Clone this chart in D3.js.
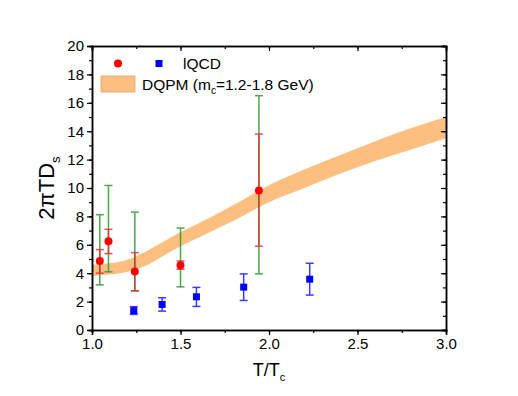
<!DOCTYPE html>
<html>
<head>
<meta charset="utf-8">
<script src="https://cdn.jsdelivr.net/npm/d3@7"></script>
<style>
  body { margin: 0; background: #fff; }
  text { font-family: "Liberation Sans", Arial, sans-serif; fill: #000; }
</style>
</head>
<body>
<div id="chart"></div>
<script>
// lQCD points (red circles): value, red error, green error
const redT = [1.044, 1.093, 1.242, 1.50, 1.943];
const redVal = [4.86, 6.25, 4.12, 4.56, 9.82];
const redLo = [4.0, 5.38, 2.76, 4.28, 5.9];
const redHi = [5.66, 7.09, 5.45, 4.86, 13.8];
const greenLo = [3.18, 4.1, 2.76, 3.04, 3.95];
const greenHi = [8.12, 10.18, 8.3, 7.18, 16.5];

// lQCD points (blue squares)
const blueT = [1.236, 1.396, 1.59, 1.857, 2.23];
const blueVal = [1.36, 1.8, 2.34, 3.02, 3.58];
const blueLo = [1.1, 1.33, 1.66, 2.08, 2.46];
const blueHi = [1.64, 2.27, 3.0, 3.95, 4.7];

// DQPM band
const bandT = [1.0, 1.1, 1.2, 1.3, 1.4, 1.5, 1.6, 1.8, 2.0, 2.2, 2.4, 2.6, 2.8, 3.0];
const bandUp = [4.6, 4.7, 4.95, 5.5, 6.2, 6.9, 7.5, 8.8, 10.2, 11.3, 12.3, 13.3, 14.2, 15.0];
const bandLow = [3.8, 3.9, 4.1, 4.5, 5.2, 5.9, 6.5, 7.7, 9.0, 10.0, 11.0, 11.9, 12.7, 13.5];

const xTicks = [1.0, 1.5, 2.0, 2.5, 3.0];
const yTicks = [0, 2, 4, 6, 8, 10, 12, 14, 16, 18, 20];

const width = 518, height = 396;
const margin = { top: 46, right: 72, bottom: 66, left: 92 };

const svg = d3.select("#chart").append("svg")
  .attr("width", width).attr("height", height);

const x = d3.scaleLinear().domain([1, 3]).range([margin.left, width - margin.right]);
const y = d3.scaleLinear().domain([0, 20]).range([height - margin.bottom, margin.top]);

const orange = "#fdbf80";

// band
const band = bandT.map((t, i) => ({ t, lo: bandLow[i], hi: bandUp[i] }));
svg.append("path")
  .datum(band)
  .attr("fill", orange)
  .attr("d", d3.area().x(d => x(d.t)).y0(d => y(d.lo)).y1(d => y(d.hi)).curve(d3.curveMonotoneX));

// error bars helper
function errBars(ts, lo, hi, color, cap, opacity) {
  const g = svg.append("g").attr("stroke", color).attr("stroke-width", 1.5).attr("opacity", opacity);
  ts.forEach((t, i) => {
    const cx = x(t);
    g.append("line").attr("x1", cx).attr("x2", cx).attr("y1", y(lo[i])).attr("y2", y(hi[i]));
    [lo[i], hi[i]].forEach(v => {
      g.append("line").attr("x1", cx - cap).attr("x2", cx + cap).attr("y1", y(v)).attr("y2", y(v));
    });
  });
}

errBars(redT, greenLo, greenHi, "#2e9a2e", 4, 0.85);
errBars(redT, redLo, redHi, "#e8262a", 4, 0.8);
errBars(blueT, blueLo, blueHi, "#1a1aff", 4, 0.85);

svg.append("g").selectAll("circle")
  .data(redT).enter().append("circle")
  .attr("cx", d => x(d)).attr("cy", (d, i) => y(redVal[i]))
  .attr("r", 4).attr("fill", "#ff0000");

svg.append("g").selectAll("rect")
  .data(blueT).enter().append("rect")
  .attr("x", d => x(d) - 3.5).attr("y", (d, i) => y(blueVal[i]) - 3.5)
  .attr("width", 7).attr("height", 7).attr("fill", "#0000ff");

// axes
const fmt = d3.format(".1f");
const xMinor = d3.range(1, 3.001, 0.25);
const yMinor = d3.range(0, 20.001, 1);

const bottom = svg.append("g").attr("transform", `translate(0,${y(0)})`)
  .call(d3.axisBottom(x).tickValues(xTicks).tickFormat(fmt).tickSize(5).tickPadding(3));
svg.append("g").attr("transform", `translate(0,${y(0)})`)
  .call(d3.axisBottom(x).tickValues(xMinor).tickFormat("").tickSize(3));
const left = svg.append("g").attr("transform", `translate(${x(1)},0)`)
  .call(d3.axisLeft(y).tickValues(yTicks).tickSize(5).tickPadding(3));
svg.append("g").attr("transform", `translate(${x(1)},0)`)
  .call(d3.axisLeft(y).tickValues(yMinor).tickFormat("").tickSize(3));
svg.append("g").attr("transform", `translate(0,${y(20)})`)
  .call(d3.axisBottom(x).tickValues(xTicks).tickFormat("").tickSize(5));
svg.append("g").attr("transform", `translate(0,${y(20)})`)
  .call(d3.axisBottom(x).tickValues(xMinor).tickFormat("").tickSize(3));
svg.append("g").attr("transform", `translate(${x(3)},0)`)
  .call(d3.axisLeft(y).tickValues(yTicks).tickFormat("").tickSize(5));
svg.append("g").attr("transform", `translate(${x(3)},0)`)
  .call(d3.axisLeft(y).tickValues(yMinor).tickFormat("").tickSize(3));

svg.selectAll(".domain").attr("stroke", "#000").attr("stroke-width", 1.5);
svg.selectAll(".tick line").attr("stroke", "#000").attr("stroke-width", 1.2);
svg.selectAll(".tick text").style("font-family", "Liberation Sans, Arial, sans-serif").style("font-size", "15px").attr("fill", "#000");

// axis titles
const xt = svg.append("text").attr("x", x(2)).attr("y", 376).attr("text-anchor", "middle")
  .style("font-size", "18px");
xt.append("tspan").text("T/T");
xt.append("tspan").text("c").attr("dy", 5).style("font-size", "11px");

const yt = svg.append("text").attr("transform", `translate(54,${y(10)}) rotate(-90)`)
  .attr("text-anchor", "middle").style("font-size", "22px");
yt.append("tspan").text("2πTD");
yt.append("tspan").text("s").attr("dy", 6).style("font-size", "13px");

// legend
svg.append("circle").attr("cx", 118).attr("cy", 63.5).attr("r", 4).attr("fill", "#ff0000");
svg.append("rect").attr("x", 155.5).attr("y", 60).attr("width", 7).attr("height", 7).attr("fill", "#0000ff");
svg.append("text").attr("x", 183).attr("y", 69).style("font-size", "15.5px").text("lQCD");
svg.append("rect").attr("x", 101).attr("y", 76).attr("width", 34).attr("height", 16)
  .attr("fill", orange).attr("stroke", "#e0a060").attr("stroke-width", 0.8);
const lt = svg.append("text").attr("x", 142).attr("y", 90).style("font-size", "15.5px");
lt.append("tspan").text("DQPM (m");
lt.append("tspan").text("c").attr("dy", 4).style("font-size", "10px");
lt.append("tspan").text("=1.2-1.8 GeV)").attr("dy", -4);
</script>
</body>
</html>
